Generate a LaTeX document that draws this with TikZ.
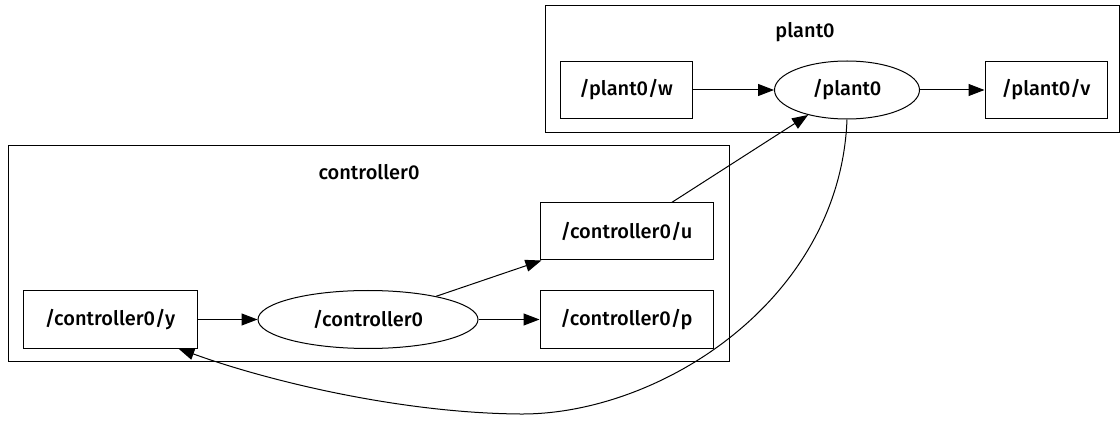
\documentclass[tikz,border=0pt]{standalone}
\usepackage{fontspec}
\setmainfont{Fira Sans}[UprightFont = * Medium]
\usetikzlibrary{arrows.meta,shapes.geometric}
\begin{document}
\begin{tikzpicture}[x=1pt,y=-1pt,
  every node/.style={font=\fontsize{20}{24}\selectfont, inner sep=0pt},
  topic/.style={draw, line width=1pt, rectangle, minimum height=57pt},
  nodeell/.style={draw, line width=1pt, ellipse, minimum height=58pt},
  cluster/.style={draw, line width=1pt},
  edge/.style={draw, line width=1pt, -{Triangle[length=16pt,width=12pt]}},
  lbl/.style={font=\fontsize{20}{24}\selectfont}]
\useasboundingbox (0,0) rectangle (1120,422);
% clusters
\draw[cluster] (545,6) rectangle (1119,133);
\node[lbl] (plantlbl) at (805,32) {plant0};
\draw[cluster] (8,146) rectangle (729,361);
\node[lbl] (ctrllbl) at (369,172) {controller0};
% nodes
\node[topic, minimum width=132pt] (w) at (626,90) {/plant0/w};
\node[nodeell, minimum width=145pt] (plant) at (847,90) {/plant0};
\node[topic, minimum width=122pt] (v) at (1046,90) {/plant0/v};
\node[topic, minimum width=173pt] (u) at (626.5,231.5) {/controller0/u};
\node[topic, minimum width=173pt] (p) at (626.5,319.5) {/controller0/p};
\node[topic, minimum width=174pt] (y) at (110,319.5) {/controller0/y};
\node[nodeell, minimum width=220pt] (ctrl) at (368,319.5) {/controller0};
% edges
\draw[edge] (w) -- (plant);
\draw[edge] (plant) -- (v);
\draw[edge] (u) -- (plant);
\draw[edge] (ctrl) -- (u);
\draw[edge] (ctrl) -- (p);
\draw[edge] (y) -- (ctrl);
\draw[edge] (plant.south) .. controls (840,300) and (660,415) .. (520,414)
  .. controls (400,413) and (268,381) .. (y.-23);
\end{tikzpicture}
\end{document}
